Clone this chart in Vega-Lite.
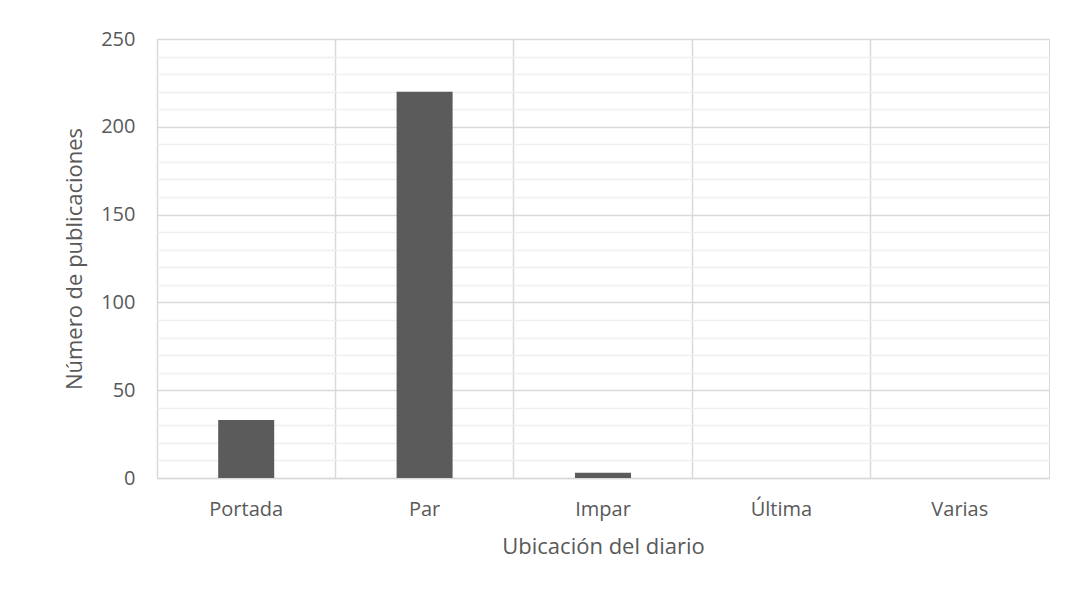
{
  "$schema": "https://vega.github.io/schema/vega-lite/v6.json",
  "autosize": {"type": "none"},
  "width": 892,
  "height": 439,
  "padding": {"left": 157, "top": 39, "right": 20, "bottom": 114},
  "background": "white",
  "config": {
    "view": {"stroke": "#d9d9d9", "strokeWidth": 1},
    "font": "Open Sans"
  },
  "data": {
    "values": [
      {"ubicacion": "Portada", "n": 33},
      {"ubicacion": "Par", "n": 220},
      {"ubicacion": "Impar", "n": 3},
      {"ubicacion": "Última", "n": 0},
      {"ubicacion": "Varias", "n": 0}
    ]
  },
  "mark": {"type": "bar", "color": "#5b5b5b", "width": {"band": 0.314}},
  "encoding": {
    "x": {
      "field": "ubicacion",
      "type": "nominal",
      "sort": null,
      "scale": {"paddingInner": 0, "paddingOuter": 0},
      "axis": {
        "title": "Ubicación del diario",
        "titleFont": "Open Sans",
        "titleFontSize": 22,
        "titleFontWeight": "normal",
        "titleColor": "#595959",
        "titlePadding": 17,
        "labelFont": "Open Sans",
        "labelFontSize": 20,
        "labelColor": "#595959",
        "labelPadding": 21,
        "labelAngle": 0,
        "ticks": false,
        "domainColor": "#d9d9d9",
        "domainWidth": 1.5,
        "grid": true,
        "bandPosition": 0,
        "gridColor": "#d9d9d9",
        "gridWidth": 1.5
      }
    },
    "y": {
      "field": "n",
      "type": "quantitative",
      "scale": {"domain": [0, 250], "nice": false},
      "axis": {
        "title": "Número de publicaciones",
        "titleFont": "Open Sans",
        "titleFontSize": 22,
        "titleFontWeight": "normal",
        "titleColor": "#595959",
        "titlePadding": 14,
        "labelFont": "Open Sans",
        "labelFontSize": 20,
        "labelColor": "#595959",
        "labelPadding": 22,
        "values": [0, 10, 20, 30, 40, 50, 60, 70, 80, 90, 100, 110, 120, 130, 140, 150, 160, 170, 180, 190, 200, 210, 220, 230, 240, 250],
        "labelExpr": "datum.value % 50 === 0 ? datum.label : ''",
        "ticks": false,
        "domain": false,
        "grid": true,
        "gridColor": {"condition": {"test": "datum.value % 50 === 0", "value": "#d9d9d9"}, "value": "#efefef"},
        "gridWidth": 1.5
      }
    }
  }
}
